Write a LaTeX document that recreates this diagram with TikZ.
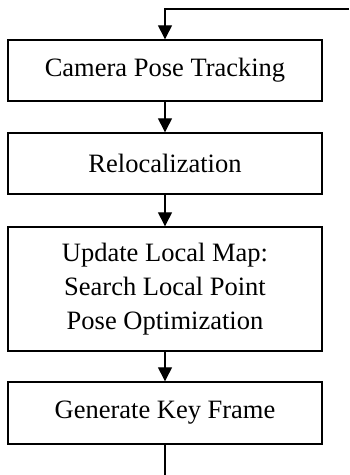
\documentclass[tikz,border=0pt]{standalone}
\usepackage{fontspec}
\setmainfont{Liberation Serif}
\usetikzlibrary{arrows.meta}
\begin{document}
\begin{tikzpicture}[x=1pt,y=1pt,
  stepbox/.style={draw, line width=1.4pt, minimum width=314pt, inner sep=0pt,
    align=center, font=\fontsize{26.5}{34}\selectfont},
  conn/.style={line width=1.3pt, -{Triangle[length=14pt,width=14pt]}},
  plain/.style={line width=1.3pt}]
\useasboundingbox (0,0) rectangle (349,-475);
\node[stepbox, minimum height=61pt] (b1) at (165,-70.5) {Camera Pose Tracking};
\node[stepbox, minimum height=61pt] (b2) at (165,-163.5) {Relocalization};
\node[stepbox, minimum height=124pt] (b3) at (165,-289) {Update Local Map:\\Search Local Point\\Pose Optimization};
\node[stepbox, minimum height=62pt] (b4) at (165,-413) {Generate Key Frame};
\coordinate (tr) at (349,-9);
\coordinate (tl) at (165,-9);
\coordinate (bot) at (165,-475);
\draw[conn] (tr) -- (tl) -- (b1.north);
\draw[conn] (b1.south) -- (b2.north);
\draw[conn] (b2.south) -- (b3.north);
\draw[conn] (b3.south) -- (b4.north);
\draw[plain] (b4.south) -- (bot);
\end{tikzpicture}
\end{document}
